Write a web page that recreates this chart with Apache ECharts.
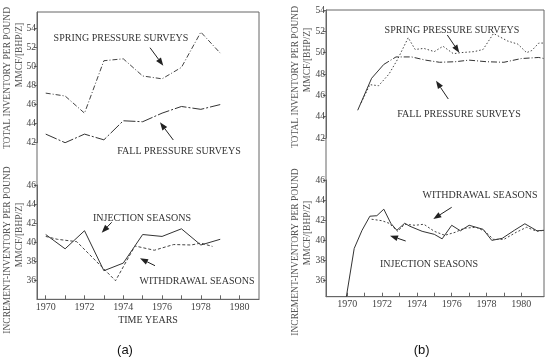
<!DOCTYPE html>
<html><head><meta charset="utf-8">
<script src="https://cdn.jsdelivr.net/npm/echarts@6/dist/echarts.min.js"></script>
<style>html,body{margin:0;padding:0;background:#fff}#c{width:550px;height:360px}</style>
</head><body><div id="c"></div>
<script>
// ---- Panel (a) data ----
const yearsA = [1970,1971,1972,1973,1974,1975,1976,1977,1978,1979];
const springA = [47.2,46.9,45.1,50.6,50.8,49.0,48.7,49.9,53.6,51.4];
const fallA = [42.9,42.0,42.9,42.3,44.3,44.2,45.1,45.8,45.5,46.0];
const injectionA = [40.8,39.3,41.2,37.0,37.8,40.8,40.6,41.4,39.7,40.3];
const withdrawalYearsA = [1970.0,1970.6,1971.6,1973.6,1974.6,1975.6,1976.6,1977.5,1978.0,1978.6];
const withdrawalA = [40.6,40.3,40.05,35.95,39.6,39.15,39.75,39.7,39.9,39.55];
// ---- Panel (b) data ----
const springYearsB = [1970.8,1971.3,1971.8,1972.4,1972.9,1973.5,1973.9,1974.4,1975.0,1975.5,1976.1,1976.5,1977.3,1977.8,1978.4,1979.2,1979.8,1980.3,1980.6,1981.0,1981.3];
const springB = [45.3,47.0,46.9,48.0,49.4,51.4,50.3,50.4,50.1,50.6,49.9,50.0,50.1,50.3,51.8,51.1,50.8,50.0,50.2,50.9,50.9];
const fallYearsB = [1970.6,1971.4,1972.1,1972.8,1973.7,1974.5,1975.3,1976.2,1977.0,1978.0,1979.0,1980.0,1981.0,1981.3];
const fallB = [44.6,47.6,48.9,49.6,49.6,49.3,49.1,49.15,49.3,49.15,49.1,49.45,49.55,49.45];
const injectionYearsB = [1969.95,1970.4,1970.85,1971.3,1971.7,1972.1,1972.5,1972.85,1973.3,1973.6,1974.3,1975.0,1975.45,1976.0,1976.5,1977.0,1977.8,1978.3,1978.9,1979.6,1980.2,1980.9,1981.3];
const injectionB = [34.4,39.2,41.0,42.4,42.45,43.1,41.7,41.0,41.7,41.4,40.9,40.6,40.15,41.5,40.95,41.5,41.1,40.0,40.2,41.0,41.65,40.95,41.0];
const withdrawalYearsB = [1971.4,1972.0,1972.4,1972.9,1973.3,1973.9,1974.4,1975.0,1975.6,1976.2,1976.7,1977.4,1977.9,1978.4,1979.0,1979.7,1980.3,1980.9,1981.3];
const withdrawalB = [42.1,41.95,41.7,40.9,41.6,41.5,41.6,40.9,40.5,40.8,41.2,41.3,40.9,40.1,40.1,40.8,41.3,40.9,41.0];
// ---- tick labels ----
const topTicks = [42,44,46,48,50,52,54];
const bottomTicks = [36,38,40,42,44,46];
const yearTicks = [1970,1971,1972,1973,1974,1975,1976,1977,1978,1979,1980];
const yearLabels = [1970,1972,1974,1976,1978,1980];
const titleTop = 'TOTAL INVENTORY PER POUND';
const titleBottom = 'INCREMENT-INVENTORY PER POUND';
const unitTitle = 'MMCF/[BHP/Z]';

const SERIF = '"Liberation Serif","DejaVu Serif",serif';
const AX = '#666';
const LINE = '#333';
const zip = (xs, ys) => xs.map((x, i) => [x, ys[i]]);

function hiddenAxis() { return {type:'value', show:false, min:0, max:1}; }
function yAxisDef(grid, min, max, ticks) {
  return {type:'value', gridIndex:grid, min:min, max:max, splitLine:{show:false},
    axisLine:{show:true, lineStyle:{color:AX}},
    axisTick:{show:true, length:3, customValues:ticks, lineStyle:{color:AX}},
    axisLabel:{customValues:ticks, fontFamily:SERIF, fontSize:9.5, color:'#444', margin:1,
      formatter:v => String(v)}};
}
function xHidden(grid, min, max) {
  return {type:'value', gridIndex:grid, min:min, max:max, show:false};
}
function xAxisDef(grid, min, max, name) {
  return {type:'value', gridIndex:grid, min:min, max:max, splitLine:{show:false},
    axisLine:{show:true, lineStyle:{color:AX}},
    axisTick:{show:true, inside:true, length:4, customValues:yearTicks, lineStyle:{color:AX}},
    axisLabel:{customValues:yearLabels, fontFamily:SERIF, fontSize:10, color:'#444', margin:3,
      formatter:v => String(Math.round(v))},
    name:name || '', nameLocation:'middle', nameGap:16,
    nameTextStyle:{fontFamily:SERIF, fontSize:10, color:'#333'}};
}
function line(xi, yi, data, type, color) {
  return {type:'line', xAxisIndex:xi, yAxisIndex:yi, data:data, symbol:'none', silent:true,
    lineStyle:{width:1, color:color || LINE, type:type}};
}

const xMinA = 1969.55, xMaxA = 1981.0, xMinB = 1968.78, xMaxB = 1981.3;

const chart = echarts.init(document.getElementById('c'), null, {renderer:'canvas'});

function arrow(x1, y1, x2, y2) {
  const a = Math.atan2(y2 - y1, x2 - x1), L = 8, W = 3;
  const bx = x2 - L * Math.cos(a), by = y2 - L * Math.sin(a);
  const px = -Math.sin(a) * W, py = Math.cos(a) * W;
  return [
    {type:'line', shape:{x1:x1, y1:y1, x2:bx, y2:by}, style:{stroke:'#222', lineWidth:1}},
    {type:'polygon', shape:{points:[[x2,y2],[bx+px,by+py],[bx-px,by-py]]}, style:{fill:'#222'}}
  ];
}
function label(text, x, y) {
  return {type:'text', x:x, y:y, style:{text:text, font:'10px ' + SERIF, fill:'#333', align:'center', verticalAlign:'middle'}};
}
function vtitle(text, x, y, size) {
  return {type:'text', x:x, y:y, rotation:Math.PI/2, style:{text:text, font:(size||9.5)+'px ' + SERIF, fill:'#555', align:'center', verticalAlign:'middle'}};
}

const graphics = [].concat(
  label('SPRING PRESSURE SURVEYS', 121, 38),
  arrow(150, 47.7, 163.3, 65.7),
  label('FALL PRESSURE SURVEYS', 179, 151.7),
  arrow(173.3, 140, 160, 122.3),
  label('INJECTION SEASONS', 142, 218.3),
  arrow(111.7, 222.3, 101.7, 232.7),
  label('WITHDRAWAL SEASONS', 197, 281),
  arrow(155, 265.7, 140, 258.3),
  label('SPRING PRESSURE SURVEYS', 452, 30),
  arrow(447.3, 35, 459.3, 52.7),
  label('FALL PRESSURE SURVEYS', 459, 114.3),
  arrow(448.3, 99, 436, 80.7),
  label('WITHDRAWAL SEASONS', 480, 195),
  arrow(451.7, 207.3, 433.3, 219),
  label('INJECTION SEASONS', 429, 264.3),
  arrow(405.7, 241, 390, 235.7),
  vtitle(titleTop, 7, 78), vtitle(unitTitle, 19, 55),
  vtitle(titleBottom, 7, 250), vtitle(unitTitle, 19, 235),
  vtitle(titleTop, 295, 77), vtitle(unitTitle, 307, 60),
  vtitle(titleBottom, 295, 252), vtitle(unitTitle, 307, 233),
  [{type:'text', x:125, y:350, style:{text:'(a)', font:'13px "Liberation Sans",Arial,sans-serif', fill:'#111', align:'center', verticalAlign:'middle'}},
   {type:'text', x:421.7, y:350, style:{text:'(b)', font:'13px "Liberation Sans",Arial,sans-serif', fill:'#111', align:'center', verticalAlign:'middle'}}]
);

const option = {
  animation:false,
  backgroundColor:'#fff',
  grid:[
    {left:37, top:12, width:222, height:287.3, show:true, borderColor:AX, borderWidth:1},
    {left:37, top:12, width:222, height:130.7},
    {left:37, top:185, width:222, height:114.3},
    {left:326, top:10, width:218, height:286.7, show:true, borderColor:AX, borderWidth:1},
    {left:326, top:10, width:218, height:128},
    {left:326, top:180, width:218, height:116.7}
  ],
  xAxis:[
    Object.assign(hiddenAxis(), {gridIndex:0}),
    xHidden(1, xMinA, xMaxA),
    xAxisDef(2, xMinA, xMaxA, 'TIME YEARS'),
    Object.assign(hiddenAxis(), {gridIndex:3}),
    xHidden(4, xMinB, xMaxB),
    xAxisDef(5, xMinB, xMaxB, '')
  ],
  yAxis:[
    Object.assign(hiddenAxis(), {gridIndex:0}),
    yAxisDef(1, 42, 55.71, topTicks),
    yAxisDef(2, 34, 46, bottomTicks),
    Object.assign(hiddenAxis(), {gridIndex:3}),
    yAxisDef(4, 42, 54, topTicks),
    yAxisDef(5, 34.4, 46, bottomTicks)
  ],
  series:[
    line(1, 1, zip(yearsA, springA), [5,2,1,2], '#444'),
    line(1, 1, zip(yearsA, fallA), [12,2,2,2]),
    line(2, 2, zip(yearsA, injectionA), 'solid'),
    line(2, 2, zip(withdrawalYearsA, withdrawalA), [3,2], '#444'),
    line(4, 4, zip(springYearsB, springB), [1.5,2], '#444'),
    line(4, 4, zip(fallYearsB, fallB).slice(0, 3), 'solid'),
    line(4, 4, zip(fallYearsB, fallB).slice(2), [6,2,1,2]),
    line(5, 5, zip(injectionYearsB, injectionB), 'solid'),
    line(5, 5, zip(withdrawalYearsB, withdrawalB), [2,2], '#444')
  ],
  graphic:graphics
};
chart.setOption(option);
</script></body></html>
